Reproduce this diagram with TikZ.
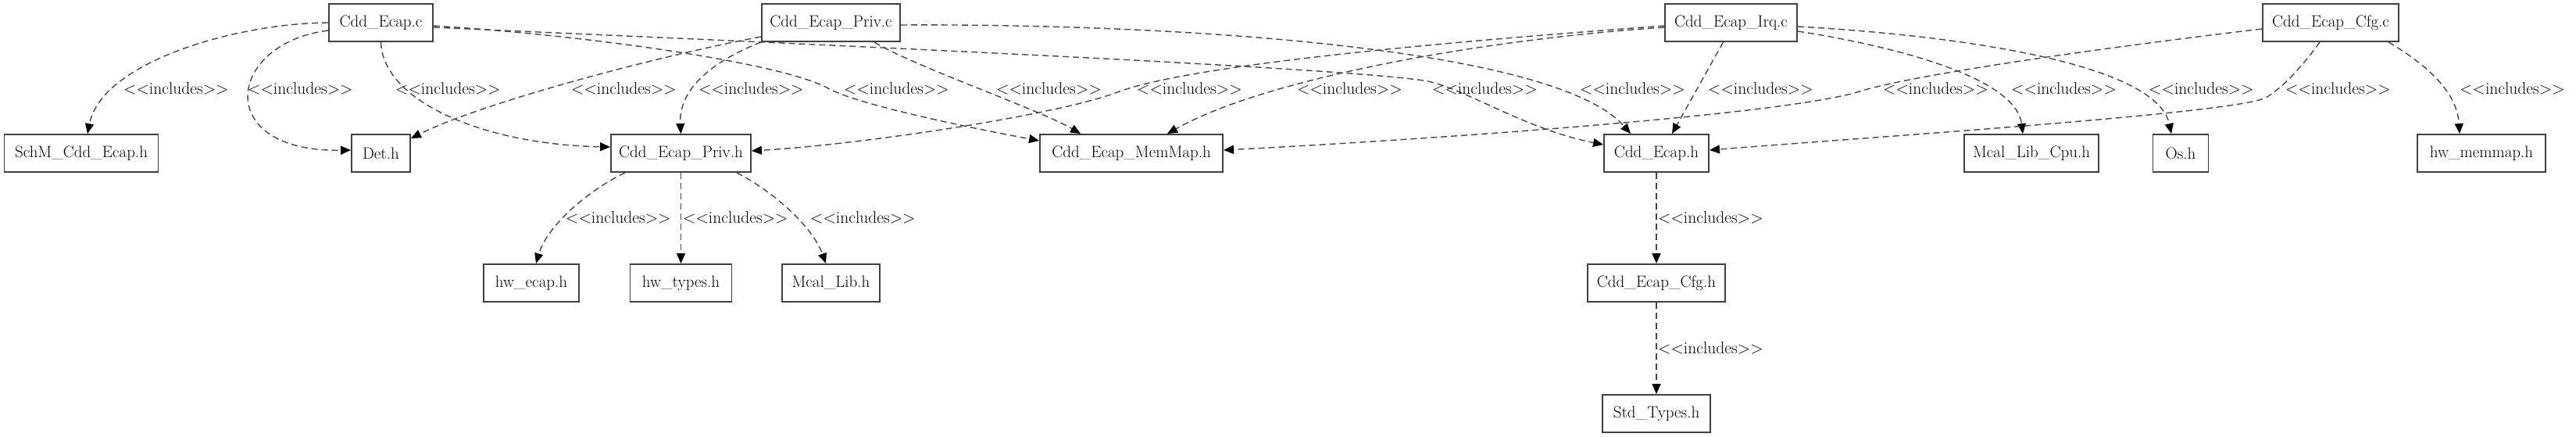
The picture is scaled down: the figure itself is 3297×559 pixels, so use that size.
\documentclass[tikz,border=0pt]{standalone}
\usetikzlibrary{arrows.meta,calc}
\newcommand\incltext{<\kern0pt<includes>\kern0pt>}
\begin{document}
\begin{tikzpicture}[x=1pt,y=-1pt,
  file/.style={draw=black!75, line width=1.9pt, minimum height=48pt, inner sep=0pt, fill=white, font=\fontsize{21}{25}\selectfont},
  inc/.style={draw=black!72, line width=1.4pt, dash pattern=on 8pt off 5pt, -{Triangle[length=13pt,width=11pt,color=black]}},
  lbl/.style={anchor=west, inner sep=0pt, font=\fontsize{21.5}{25}\selectfont}]
\useasboundingbox (0,0) rectangle (3297,559);
% nodes
\node[file, minimum width=133pt] (cddc) at (487.5,29) {Cdd\_Ecap.c};
\node[file, minimum width=177pt] (privc) at (1063.5,29) {Cdd\_Ecap\_Priv.c};
\node[file, minimum width=169pt] (irqc) at (2215.5,29) {Cdd\_Ecap\_Irq.c};
\node[file, minimum width=174pt] (cfgc) at (2983,29) {Cdd\_Ecap\_Cfg.c};
\node[file, minimum width=197pt] (schm) at (104,196) {SchM\_Cdd\_Ecap.h};
\node[file, minimum width=75pt] (det) at (487.5,196) {Det.h};
\node[file, minimum width=179pt] (privh) at (871.5,196) {Cdd\_Ecap\_Priv.h};
\node[file, minimum width=234pt] (memmap) at (1448,196) {Cdd\_Ecap\_MemMap.h};
\node[file, minimum width=134pt] (cddh) at (2120,196) {Cdd\_Ecap.h};
\node[file, minimum width=172pt] (mcalcpu) at (2600,196) {Mcal\_Lib\_Cpu.h};
\node[file, minimum width=71pt] (os) at (2791,196) {Os.h};
\node[file, minimum width=164pt] (hwmm) at (3176,196) {hw\_memmap.h};
\node[file, minimum width=122pt] (hwecap) at (680,362) {hw\_ecap.h};
\node[file, minimum width=130pt] (hwtypes) at (871.5,362) {hw\_types.h};
\node[file, minimum width=125pt] (mcallib) at (1063.5,362) {Mcal\_Lib.h};
\node[file, minimum width=176pt] (cfgh) at (2120,362) {Cdd\_Ecap\_Cfg.h};
\node[file, minimum width=138pt] (std) at (2120,529) {Std\_Types.h};
% edges
\draw[inc] (cddc.west) .. controls (300,30) and (130,80) .. ($(schm.north)+(8,0)$);
\draw[inc] ($(cddc.west)+(0,10)$) .. controls (290,55) and (270,195) .. ($(det.west)+(0,-4)$);
\draw[inc] (cddc.south) .. controls (490,130) and (620,185) .. ($(privh.west)+(0,-8)$);
\draw[inc] ($(privc.west)+(0,18)$) .. controls (850,70) and (620,130) .. ($(det.east)+(0,-19)$);
\draw[inc] (privc.south west) .. controls (920,75) and (868,110) .. (privh.north);
\draw[inc] ($(cddc.east)+(0,4)$) .. controls (750,45) and (1000,80) .. (1060,113)
   .. controls (1100,135) and (1250,165) .. ($(memmap.west)+(0,-16)$);
\draw[inc] ($(privc.south)+(55.5,0)$) .. controls (1170,85) and (1330,140) .. ($(memmap.north)+(-65,0)$);
\draw[inc] ($(irqc.west)+(0,4)$) .. controls (1900,50) and (1530,80) .. (1430,118)
   .. controls (1350,148) and (1100,185) .. ($(privh.east)+(0,-3)$);
\draw[inc] ($(irqc.west)+(0,6)$) .. controls (1900,50) and (1620,100) .. ($(memmap.north)+(46,0)$);
\draw[inc] ($(cddc.east)+(0,6)$) .. controls (1000,55) and (1700,85) .. (1822,103)
   .. controls (1870,110) and (1950,165) .. ($(cddh.west)+(0,-11)$);
\draw[inc] ($(privc.east)+(0,3)$) .. controls (1500,30) and (1990,60) .. ($(cddh.north)+(-33,0)$);
\draw[inc] ($(irqc.south)+(-10,0)$) -- ($(cddh.north)+(20,0)$);
\draw[inc] ($(cfgc.west)+(0,8)$) .. controls (2700,60) and (2450,95) .. (2380,117)
   .. controls (2280,148) and (1800,180) .. ($(memmap.east)+(0,-4)$);
\draw[inc] ($(irqc.east)+(0,11)$) .. controls (2430,60) and (2580,100) .. ($(mcalcpu.north)+(-11,0)$);
\draw[inc] ($(irqc.east)+(0,5)$) .. controls (2500,45) and (2760,80) .. ($(os.north)+(-12,0)$);
\draw[inc] ($(cfgc.south)+(-14,0)$) .. controls (2950,80) and (2925,110) .. (2900,125)
   .. controls (2860,145) and (2400,175) .. ($(cddh.east)+(0,-4)$);
\draw[inc] ($(cfgc.south)+(74,0)$) .. controls (3110,85) and (3145,120) .. ($(hwmm.north)+(-28,0)$);
\draw[inc] ($(privh.south)+(-71.5,0)$) .. controls (750,245) and (700,290) .. ($(hwecap.north)+(6,0)$);
\draw[inc] (privh.south) -- (hwtypes.north);
\draw[inc] ($(privh.south)+(71.5,0)$) .. controls (990,245) and (1040,290) .. ($(mcallib.north)+(-6.5,0)$);
\draw[inc] (cddh.south) -- (cfgh.north);
\draw[inc] (cfgh.south) -- (std.north);
% labels
\node[lbl] (l1) at (158,113) {\incltext};
\node[lbl] (l2) at (317,113) {\incltext};
\node[lbl] (l3) at (506,113) {\incltext};
\node[lbl] (l4) at (731,113) {\incltext};
\node[lbl] (l5) at (894,113) {\incltext};
\node[lbl] (l6) at (1080,113) {\incltext};
\node[lbl] (l7) at (1275,113) {\incltext};
\node[lbl] (l8) at (1455,113) {\incltext};
\node[lbl] (l9) at (1660,113) {\incltext};
\node[lbl] (l10) at (1833,113) {\incltext};
\node[lbl] (l11) at (2022,113) {\incltext};
\node[lbl] (l12) at (2186,113) {\incltext};
\node[lbl] (l13) at (2410,113) {\incltext};
\node[lbl] (l14) at (2574,113) {\incltext};
\node[lbl] (l15) at (2750,113) {\incltext};
\node[lbl] (l16) at (2925,113) {\incltext};
\node[lbl] (l17) at (3148,113) {\incltext};
\node[lbl] (l18) at (724,278) {\incltext};
\node[lbl] (l19) at (874,278) {\incltext};
\node[lbl] (l20) at (1037,278) {\incltext};
\node[lbl] (l21) at (2122,278) {\incltext};
\node[lbl] (l22) at (2122,445) {\incltext};
\end{tikzpicture}
\end{document}
